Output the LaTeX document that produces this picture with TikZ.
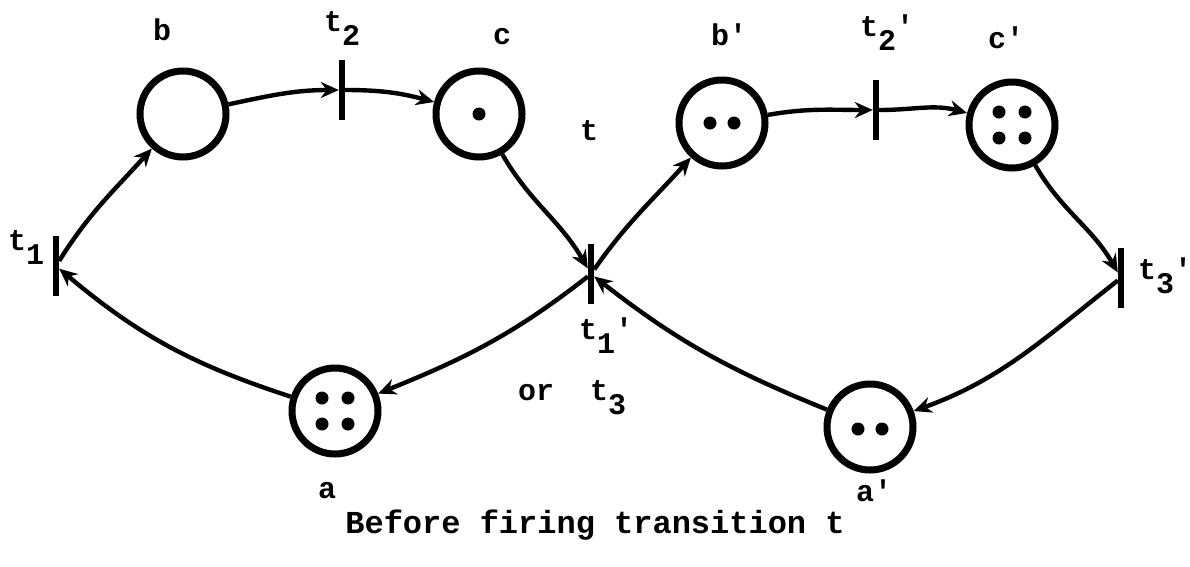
\documentclass[tikz,border=0pt]{standalone}
\usepackage{fontspec}
\setmainfont{Liberation Mono}[Ligatures=TeXOff]
\usetikzlibrary{arrows.meta}
\newcommand\sbx[1]{\raisebox{-14pt}{#1}}
\newcommand\prm{\char"0027}
\begin{document}
\begin{tikzpicture}[x=1pt,y=1pt,
  place/.style={circle,draw,line width=7pt,minimum size=86pt,inner sep=0pt},
  trans/.style={rectangle,fill=black,minimum width=6pt,minimum height=60pt,inner sep=0pt},
  arc/.style={line width=4.4pt,-{Stealth[length=18pt,width=16pt]}},
  lab/.style={font=\fontsize{30}{30}\selectfont\bfseries,inner sep=0pt},
  captext/.style={font=\fontsize{32}{32}\selectfont\bfseries,inner sep=0pt},
  tok/.style={fill=black}]
\fill[white] (0,0) rectangle (1190,-566);
\useasboundingbox (0,0) rectangle (1190,-566);

% places
\node[place] (b)  at (183,-114) {};
\node[place] (c)  at (479,-114) {};
\node[place] (a)  at (335,-411) {};
\node[place] (bp) at (722,-123) {};
\node[place] (cp) at (1012,-125) {};
\node[place] (ap) at (870,-427) {};

% transitions
\node[trans] (t2)  at (342,-90) {};
\node[trans] (t1)  at (56,-266) {};
\node[trans] (tc)  at (591,-274) {};
\node[trans] (t2p) at (876,-110) {};
\node[trans] (t3p) at (1121,-278) {};

% tokens
\fill[tok] (c.center) circle (6.5);
\fill[tok] ([shift={(-12,0)}]bp.center) circle (6.5);
\fill[tok] ([shift={(12,0)}]bp.center) circle (6.5);
\foreach \dx in {-13,13} \foreach \dy in {-13,13} {
  \fill[tok] ([shift={(\dx,\dy)}]cp.center) circle (6.5);
  \fill[tok] ([shift={(\dx,\dy)}]a.center) circle (6.5);
}
\fill[tok] ([shift={(-12,-2)}]ap.center) circle (6.5);
\fill[tok] ([shift={(12,-2)}]ap.center) circle (6.5);

% arcs
\draw[arc] (b) to[out=12,in=180] (t2);
\draw[arc] (t2) to[out=0,in=165] (c);
\draw[arc] (t1) to[out=58,in=228] (b);
\draw[arc] (a) to[out=162,in=-40] (t1);
\draw[arc] (c) to[out=-60,in=120] (tc);
\draw[arc] (tc) to[out=55,in=228] (bp);
\draw[arc] (tc) to[out=-142,in=22] (a);
\draw[arc] (ap) to[out=158,in=-38] (tc);
\draw[arc] (bp) to[out=10,in=180] (t2p);
\draw[arc] (t2p) to[out=0,in=165] (cp);
\draw[arc] (cp) to[out=-60,in=120] (t3p);
\draw[arc] (t3p) to[out=-142,in=20] (ap);

% labels
\node[lab] (lb)  at (162,-30) {b};
\node[lab] (lc)  at (502,-37) {c};
\node[lab] (lt)  at (589,-131) {t};
\node[lab] (lbp) at (729,-35) {b\prm};
\node[lab] (lcp) at (1006,-38) {c\prm};
\node[lab] (la)  at (327,-491) {a};
\node[lab] (lap) at (874,-491) {a\prm};
\node[lab,anchor=base west] (lt2)  at (324,-31) {t\sbx{2}};
\node[lab,anchor=base west] (lt2p) at (860,-36) {t\sbx{2}\prm};
\node[lab,anchor=base west] (lt1)  at (8,-250) {t\sbx{1}};
\node[lab,anchor=base west] (lt3p) at (1138,-279) {t\sbx{3}\prm};
\node[lab,anchor=base west] (lt1p) at (579,-339) {t\sbx{1}\prm};
\node[lab,anchor=base west] (lor)  at (518,-400) {or\ \ t\sbx{3}};
\node[captext] (capt) at (595,-525) {Before firing transition t};
\end{tikzpicture}
\end{document}
